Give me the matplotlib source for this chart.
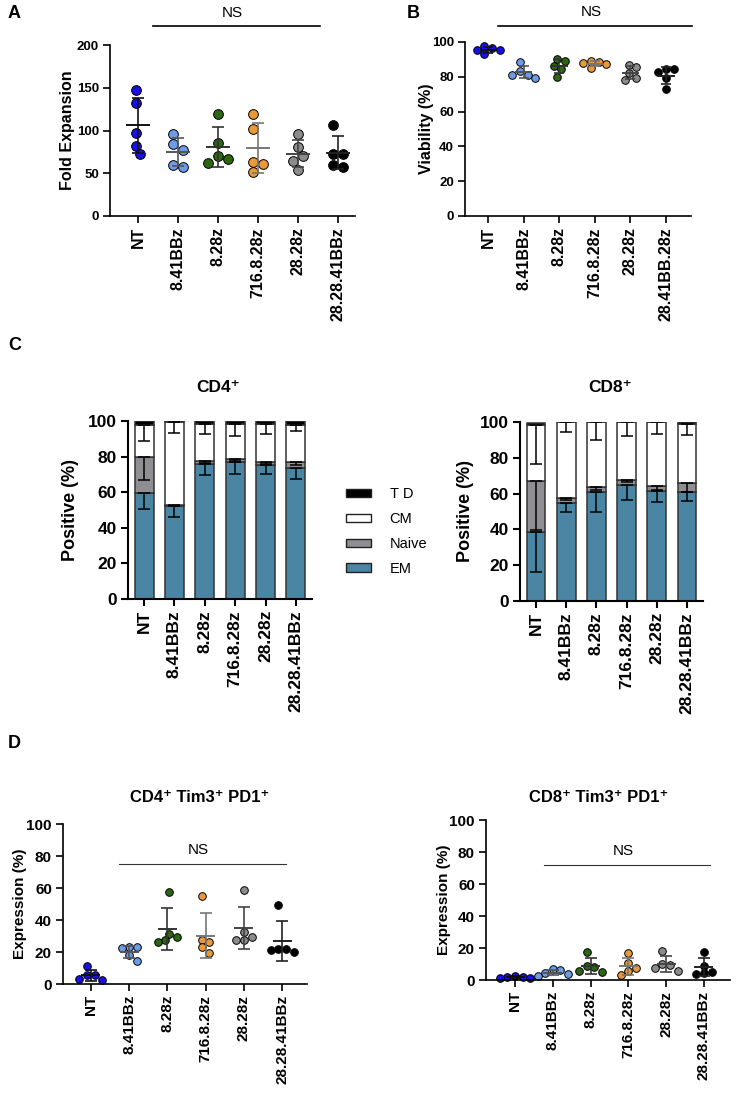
import numpy as np
import matplotlib
matplotlib.use('Agg')
import matplotlib.pyplot as plt
from matplotlib.patches import Patch

plt.rcParams['font.family'] = ['Liberation Sans', 'DejaVu Sans']
plt.rcParams['font.weight'] = 'bold'

# ---- data ----
cats = ['NT', '8.41BBz', '8.28z', '716.8.28z', '28.28z', '28.28.41BBz']
cats_b = ['NT', '8.41BBz', '8.28z', '716.8.28z', '28.28z', '28.41BB.28z']
dot_colors = ['#1a10e6', '#6e9be6', '#2c6613', '#e8993b', '#8c8c8c', '#000000']
err_colors = ['#111111', '#555555', '#333333', '#777777', '#444444', '#222222']

fold_exp = [[147, 132.5, 97, 82, 72],
            [95.5, 84.6, 77.2, 57.3, 59.3],
            [119.7, 85, 70, 61.6, 67],
            [119.3, 101.4, 63.5, 61.2, 51.9],
            [95.5, 80.7, 70.2, 63.9, 54.2],
            [106.8, 72.9, 72.9, 57.7, 60]]

viability = [[97.5, 96.5, 95.6, 95.5, 93],
             [88.3, 83.1, 81.2, 81.2, 79.3],
             [90.2, 89.3, 86.4, 84.6, 79.8],
             [89.3, 88.5, 87.9, 87.3, 85],
             [86.8, 85.4, 82.1, 79.3, 78.3],
             [84.5, 84.5, 82.5, 79.3, 72.9]]

# memory subsets (mean, SD shown downwards)
subsets = ['T D', 'CM', 'Naive', 'EM']
subset_colors = {'EM': '#4a86a3', 'Naive': '#8f8f93', 'CM': '#ffffff', 'T D': '#000000'}

cd4_em = [59.5, 52, 76, 77, 75.5, 73.5]
cd4_naive = [20, 1, 1.5, 1.5, 1.5, 3.5]
cd4_cm = [18.5, 46.5, 21, 20, 21.5, 20.5]
cd4_td = [2, 0.5, 1.5, 1.5, 1.5, 2.5]
cd4_em_sd = [9, 6, 6.5, 7, 5, 6]
cd4_naive_sd = [12.5, 0.5, 1, 1, 1, 2]
cd4_cm_sd = [9, 6, 6, 7, 6, 3]

cd8_em = [38.3, 55, 60.7, 65, 61.3, 61]
cd8_naive = [28.8, 2.8, 3.2, 2.5, 2.8, 4.8]
cd8_cm = [31, 42, 36, 32.5, 35.9, 32.9]
cd8_td = [1.5, 0.2, 0.1, 0.1, 0.1, 1.3]
cd8_em_sd = [22, 5, 11, 8.6, 5.8, 5]
cd8_naive_sd = [27.5, 1.5, 2, 1, 2, 5]
cd8_cm_sd = [21.7, 5.4, 9.7, 7.7, 6.7, 6]

cd4_tim3_pd1 = [[11, 5.8, 5.4, 3.1, 2.3],
                [22.9, 22.5, 22.9, 18.3, 14.6],
                [57.5, 31.5, 29.2, 27.3, 26.3],
                [54.8, 27.7, 26.3, 22.9, 19.4],
                [58.5, 32.3, 29.4, 27.7, 27.5],
                [49.2, 22.1, 21.9, 21.5, 20.2]]

cd8_tim3_pd1 = [[2.7, 2.1, 1.7, 1, 1],
                [6.7, 6.2, 4.2, 3.8, 2.5],
                [17.3, 9, 8.3, 5.6, 4.8],
                [16.7, 10.8, 7.3, 5.6, 3.1],
                [18.3, 10, 9.4, 7.3, 5.8],
                [17.3, 9, 5.2, 4.2, 3.8]]

W, H = 736, 1093
fig = plt.figure(figsize=(W / 100, H / 100), dpi=100)


def rect(l, t, r, b):
    return [l / W, 1 - b / H, (r - l) / W, (b - t) / H]


def style_axes(ax, tick_fs, lw=1.2):
    for s in ['top', 'right']:
        ax.spines[s].set_visible(False)
    for s in ['left', 'bottom']:
        ax.spines[s].set_linewidth(lw)
    ax.tick_params(direction='out', length=5, width=lw, labelsize=tick_fs, pad=3)


def swarm(yp, d):
    # simple beeswarm in pixel space
    order = np.argsort(-np.asarray(yp))
    xs = np.zeros(len(yp))
    placed = []
    cands = [0]
    for k in range(1, 12):
        cands += [k * 0.5 * d, -k * 0.5 * d]
    for k in order:
        for c in cands:
            ok = all((c - xs[j]) ** 2 + (yp[k] - yp[j]) ** 2 >= (0.95 * d) ** 2 for j in placed)
            if ok:
                xs[k] = c
                break
        placed.append(k)
    if len(placed) > 1:
        xs -= (xs.max() + xs.min()) / 2
    return xs


def dot_panel(ax, data, xlim, ylim, yticks, labels, ms, tick_fs, cat_fs, hw=0.27, cap=4.3):
    ax.set_xlim(xlim)
    ax.set_ylim(ylim)
    ppx = ax.transData.transform((1, 0))[0] - ax.transData.transform((0, 0))[0]
    ppy = ax.transData.transform((0, 1))[1] - ax.transData.transform((0, 0))[1]
    d = ms * 100 / 72
    for i, vals in enumerate(data):
        vals = np.asarray(vals, dtype=float)
        off = swarm(vals * ppy, d) / ppx
        ax.plot(i + off, vals, 'o', ms=ms, mfc=dot_colors[i], mec='black', mew=0.7,
                zorder=2, clip_on=False)
        m, sd = vals.mean(), vals.std(ddof=1)
        ax.errorbar(i, m, yerr=sd, fmt='none', ecolor=err_colors[i], elinewidth=1.2,
                    capsize=cap, capthick=1.2, zorder=3)
        ax.hlines(m, i - hw, i + hw, color=err_colors[i], lw=1.4, zorder=3)
    ax.set_xticks(range(len(labels)))
    ax.set_xticklabels(labels, rotation=90, fontsize=cat_fs)
    ax.set_yticks(yticks)
    style_axes(ax, tick_fs)
    ax.tick_params(axis='x', labelsize=cat_fs)


def ns_mark(ax, x0, x1, y, ty, lw, color='black'):
    ax.plot([x0, x1], [y, y], color=color, lw=lw, clip_on=False)
    ax.text((x0 + x1) / 2 - 0.1, ty, 'NS', ha='center', va='center', fontsize=11,
            fontweight='normal', clip_on=False)


def ylabel_px(ax, text, right_px, left, right, fs):
    ax.set_ylabel(text, fontsize=fs, fontweight='bold')
    ax.yaxis.set_label_coords((right_px - left) / (right - left), 0.5)


# ---- A ----
axA = fig.add_axes(rect(110, 45, 355, 216))
dot_panel(axA, fold_exp, (-0.7, 5.425), (0, 200), [0, 50, 100, 150, 200], cats,
          ms=7, tick_fs=9.5, cat_fs=11.5, hw=0.3)
ylabel_px(axA, 'Fold Expansion', 75, 110, 355, 11.5)
ns_mark(axA, 0.375, 4.55, 222, 238, 1.2)

# ---- B ----
axB = fig.add_axes(rect(465, 42, 691, 216))
dot_panel(axB, viability, (-0.65, 5.7), (0, 100), [0, 20, 40, 60, 80, 100], cats_b,
          ms=5.5, tick_fs=9.5, cat_fs=11.5, hw=0.24, cap=3.5)
ylabel_px(axB, 'Viability (%)', 434, 465, 691, 11.5)
ns_mark(axB, 0.28, 5.73, 109.2, 117, 1.2)


# ---- C ----
def stack_panel(ax, em, naive, cm, td, em_sd, naive_sd, cm_sd, xlim):
    x = np.arange(len(cats))
    em, naive, cm, td = map(np.asarray, (em, naive, cm, td))
    bw = 0.62
    kw = dict(width=bw, edgecolor='#333333', linewidth=1.1, zorder=2)
    ax.bar(x, em, color=subset_colors['EM'], **kw)
    ax.bar(x, naive, bottom=em, color=subset_colors['Naive'], **kw)
    ax.bar(x, cm, bottom=em + naive, color=subset_colors['CM'], **kw)
    ax.bar(x, td, bottom=em + naive + cm, color=subset_colors['T D'], **kw)
    for top, sd in [(em, em_sd), (em + naive, naive_sd), (em + naive + cm, cm_sd)]:
        ax.errorbar(x, top, yerr=[sd, np.zeros(len(sd))], fmt='none', ecolor='black',
                    elinewidth=1.1, capsize=4, capthick=1.1, zorder=3)
    ax.set_xlim(xlim)
    ax.set_ylim(0, 100)
    ax.set_yticks([0, 20, 40, 60, 80, 100])
    ax.set_xticks(x)
    ax.set_xticklabels(cats, rotation=90)
    style_axes(ax, 12.5, lw=1.5)
    ax.tick_params(axis='x', labelsize=12.5)


axC1 = fig.add_axes(rect(128, 421, 312, 599))
stack_panel(axC1, cd4_em, cd4_naive, cd4_cm, cd4_td, cd4_em_sd, cd4_naive_sd, cd4_cm_sd, (-0.53, 5.53))
ylabel_px(axC1, 'Positive (%)', 79, 128, 312, 13)

axC2 = fig.add_axes(rect(520, 422, 703, 601))
stack_panel(axC2, cd8_em, cd8_naive, cd8_cm, cd8_td, cd8_em_sd, cd8_naive_sd, cd8_cm_sd, (-0.53, 5.53))
ylabel_px(axC2, 'Positive (%)', 474, 520, 703, 13)

fig.text(218 / W, 1 - 388 / H, 'CD4\u207a', ha='center', va='center', fontsize=12.5)
fig.text(610 / W, 1 - 387 / H, 'CD8\u207a', ha='center', va='center', fontsize=12.5)

handles = [Patch(facecolor=subset_colors[s], edgecolor='#222222', linewidth=1, label=s)
           for s in subsets]
fig.legend(handles=handles, loc='upper left', bbox_to_anchor=(346 / W, 1 - 487 / H),
           frameon=False, prop={'weight': 'normal', 'size': 10.5},
           handlelength=1.7, handleheight=0.5, handletextpad=1.3, labelspacing=0.75,
           borderpad=0, borderaxespad=0)

# ---- D ----
axD1 = fig.add_axes(rect(63, 824, 307, 984))
dot_panel(axD1, cd4_tim3_pd1, (-0.73, 5.65), (0, 100), [0, 20, 40, 60, 80, 100], cats,
          ms=5.5, tick_fs=11, cat_fs=11, hw=0.25, cap=4)
ylabel_px(axD1, 'Expression (%)', 27, 63, 307, 11)
ns_mark(axD1, 0.73, 5.1, 75, 84, 0.8, color='#333333')
fig.text(200 / W, 1 - 798 / H, 'CD4\u207a Tim3\u207a PD1\u207a', ha='center', va='center', fontsize=12)

axD2 = fig.add_axes(rect(486, 820, 730, 980))
dot_panel(axD2, cd8_tim3_pd1, (-0.77, 5.69), (0, 100), [0, 20, 40, 60, 80, 100], cats,
          ms=5.5, tick_fs=11, cat_fs=11, hw=0.25, cap=4)
ylabel_px(axD2, 'Expression (%)', 451, 486, 730, 11)
ns_mark(axD2, 0.77, 5.16, 72, 80.6, 0.8, color='#333333')
fig.text(599 / W, 1 - 797 / H, 'CD8\u207a Tim3\u207a PD1\u207a', ha='center', va='center', fontsize=12)

# panel letters
for letter, x, y in [('A', 8, 14), ('B', 407, 14), ('C', 8, 345), ('D', 8, 743)]:
    fig.text(x / W, 1 - y / H, letter, ha='left', va='center', fontsize=13)

fig.savefig('out.png', dpi=100)
